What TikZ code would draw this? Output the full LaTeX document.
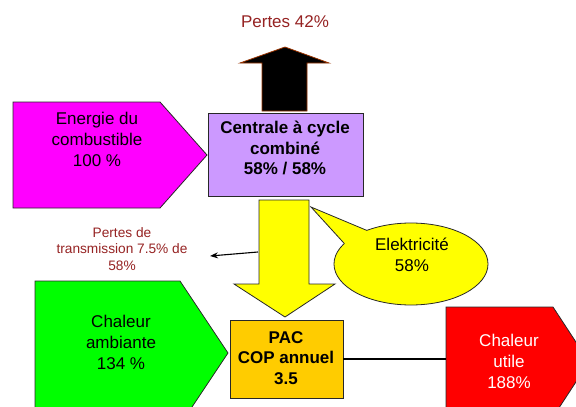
\documentclass[tikz,border=0pt]{standalone}
\usepackage{fontspec}
\setmainfont{Liberation Sans}
\usetikzlibrary{arrows.meta}
\definecolor{mag}{RGB}{255,0,255}
\definecolor{lila}{RGB}{204,153,255}
\definecolor{jaune}{RGB}{255,255,0}
\definecolor{vert}{RGB}{0,255,0}
\definecolor{rouge}{RGB}{255,0,0}
\definecolor{orange}{RGB}{255,204,0}
\definecolor{brunrouge}{RGB}{150,35,35}
\definecolor{brun}{RGB}{153,51,0}
\definecolor{bord}{RGB}{40,40,40}
\tikzset{
  shapeline/.style={draw=bord, line width=0.8pt, line join=miter},
  bigtxt/.style={align=center, font=\fontsize{17}{21}\selectfont, inner sep=0pt},
  bigbold/.style={align=center, font=\fontsize{17}{20.5}\selectfont\bfseries, inner sep=0pt},
  smalltxt/.style={align=center, font=\fontsize{13.7}{16.7}\selectfont, text=brunrouge, inner sep=0pt},
}
\begin{document}
\begin{tikzpicture}[x=1pt,y=-1pt]
\useasboundingbox (0,0) rectangle (576,407);
\clip (0,0) rectangle (576,407);
\fill[white] (0,0) rectangle (576,407);

% magenta pentagon
\filldraw[shapeline, fill=mag] (13,102) -- (160,102) -- (207,155) -- (160,208) -- (13,208) -- cycle;
\node[bigtxt] (energie) at (97,139) {Energie du\\combustible\\100 \%};

% green pentagon
\filldraw[shapeline, fill=vert] (35,281) -- (180,281) -- (228,353) -- (180,425) -- (35,425) -- cycle;
\node[bigtxt] (ambiante) at (121,342) {Chaleur\\ambiante\\134 \%};

% red pentagon
\filldraw[shapeline, fill=rouge] (446,307) -- (553,307) -- (589,362) -- (553,417) -- (446,417) -- cycle;
\coordinate (redL) at (446,359);
\node[bigtxt, text=white] (utile) at (509,361) {Chaleur\\utile\\188\%};

% black arrow up
\filldraw[draw=brun, line width=0.8pt, fill=black] (262,111) -- (262,63) -- (240,63) -- (285,47) -- (329,63) -- (307,63) -- (307,111) -- cycle;
\node[bigtxt, text=brunrouge] (pertes) at (285,22) {Pertes 42\%};

% central box
\node[shapeline, fill=lila, minimum width=155pt, minimum height=83pt, inner sep=0pt] (centrale) at (285.5,154.5) {};
\node[bigbold] (centraletxt) at (285,148) {Centrale à cycle\\combiné\\58\% / 58\%};

% yellow arrow down
\filldraw[shapeline, fill=jaune] (259,200) -- (309,200) -- (309,284) -- (335,284) -- (285,317) -- (234,284) -- (259,284) -- cycle;

% callout
\filldraw[shapeline, fill=jaune] (411,264) ellipse [x radius=77, y radius=41];
\coordinate (ctip) at (311,207);
\coordinate (cb1) at (366.8,230.4);
\coordinate (cb2) at (344.3,243.5);
\coordinate (ci1) at (371.2,233.8);
\coordinate (ci2) at (351.0,245.5);
\fill[jaune] (ctip) -- (cb1) -- (ci1) -- (ci2) -- (cb2) -- cycle;
\draw[shapeline] (cb1) -- (ctip) -- (cb2);
\node[bigtxt] (elek) at (412,255) {Elektricité\\58\%};

% transmission losses
\node[smalltxt] (transm) at (122,249) {Pertes de\\transmission 7.5\% de\\58\%};
\coordinate (shaftL) at (258,252);
\coordinate (arrEnd) at (210,256);
\draw[line width=1.1pt, -{Stealth[length=8pt,width=6pt]}] (shaftL) -- (arrEnd);

% PAC box
\node[shapeline, fill=orange, minimum width=113pt, minimum height=78pt, inner sep=0pt] (pac) at (286.5,359) {};
\node[bigbold] (pactxt) at (286,358) {PAC\\COP annuel\\3.5};

\draw[line width=1.2pt] (pac.east) -- (redL);
\end{tikzpicture}
\end{document}
